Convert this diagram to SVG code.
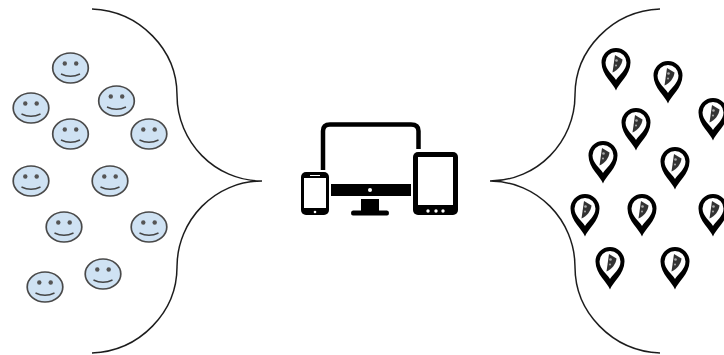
<svg xmlns="http://www.w3.org/2000/svg" width="724" height="355" viewBox="0 0 724 355">
<style>
.brace{fill:none;stroke:#1f1f1f;stroke-width:1.5}
.face{fill:#cfe2f3;stroke:#4a4a4a;stroke-width:1.7}
.eye{fill:#555}
.smile{fill:none;stroke:#444;stroke-width:1.4}
.k{fill:#000}
.w{fill:#fff}
.o{fill:none;stroke:#000}
</style>
<defs>
<filter id="soft" x="-10%" y="-10%" width="120%" height="120%"><feGaussianBlur stdDeviation="0.5"/></filter>
<g id="smiley">
<ellipse class="face" cx="0" cy="0" rx="17.8" ry="15"/>
<circle class="eye" cx="-5.7" cy="-4.5" r="2.2"/>
<circle class="eye" cx="5.7" cy="-4.5" r="2.2"/>
<path class="smile" d="M-9.5 6Q0 10.500 9.500 6"/>
</g>
<g id="pin">
<path class="k" d="M0 21.500C-2 15-14.500 6-14.500 -6.500A14.500 14.500 0 1 1 14.500 -6.500C14.500 6 2 15 0 21.500Z"/>
<path class="w" d="M0 11C-3 6-10.500 1-10.500 -6.500A10.500 10.500 0 1 1 10.500 -6.500C10.500 1 3 6 0 11Z"/>
<path d="M-3.500 3.500L-1 -14L6.500 -9.500C6 -4 2 1 -3.500 3.500Z" fill="#333"/>
<circle cx="0.500" cy="-8.500" r="1.300" fill="#aaa"/><circle cx="0" cy="-3.500" r="1" fill="#aaa"/>
</g>
</defs>
<g id="connectors" filter="url(#soft)">
<path class="brace" d="M92 9C140 11 177 50 177 95C177 142 215 181 262 181C215 181 177 220 177 267C177 312 140 351 92 353"/>
<path class="brace" d="M660 9C612 11 575 50 575 95C575 142 537 181 490 181C537 181 575 220 575 267C575 312 612 351 660 353"/>
</g>
<g filter="url(#soft)">
<g id="user-1"><use href="#smiley" x="70.500" y="68"/></g>
<g id="user-2"><use href="#smiley" x="31" y="108"/></g>
<g id="user-3"><use href="#smiley" x="116.500" y="101"/></g>
<g id="user-4"><use href="#smiley" x="70.500" y="134"/></g>
<g id="user-5"><use href="#smiley" x="149" y="134"/></g>
<g id="user-6"><use href="#smiley" x="31" y="181"/></g>
<g id="user-7"><use href="#smiley" x="110" y="181"/></g>
<g id="user-8"><use href="#smiley" x="64" y="227"/></g>
<g id="user-9"><use href="#smiley" x="149" y="227"/></g>
<g id="user-10"><use href="#smiley" x="45" y="287"/></g>
<g id="user-11"><use href="#smiley" x="103" y="274"/></g>
<g id="devices">
<path class="o" stroke-width="4.500" d="M323 170V131Q323 124.500 330 124.500H411Q418.500 124.500 418.500 131V149"/>
<rect class="k" x="331" y="184" width="80" height="12"/>
<circle class="w" cx="370" cy="190" r="2"/>
<path class="k" d="M361 199H379V210.500H387Q389 210.500 389 213Q389 215.500 387 215.500H353Q351 215.500 351 213Q351 210.500 353 210.500H361Z"/>
<rect class="k" x="301" y="172" width="28" height="43" rx="5"/>
<rect class="w" x="304" y="178" width="22" height="30"/>
<rect class="w" x="310" y="175" width="10" height="1"/>
<circle class="w" cx="315" cy="212" r="1.300"/>
<rect class="k" x="413" y="152" width="45" height="63" rx="5"/>
<rect class="w" x="418" y="157" width="35" height="48"/>
<circle class="w" cx="428" cy="211" r="1.700"/>
<circle class="w" cx="436" cy="211" r="1.700"/>
<circle class="w" cx="443" cy="211" r="1.700"/>
</g>
<g id="pin-1"><use href="#pin" x="616" y="69"/></g>
<g id="pin-2"><use href="#pin" x="668" y="82"/></g>
<g id="pin-3"><use href="#pin" x="636" y="129"/></g>
<g id="pin-4"><use href="#pin" x="713" y="119"/></g>
<g id="pin-5"><use href="#pin" x="603" y="162"/></g>
<g id="pin-6"><use href="#pin" x="675" y="168"/></g>
<g id="pin-7"><use href="#pin" x="585" y="215"/></g>
<g id="pin-8"><use href="#pin" x="642" y="215"/></g>
<g id="pin-9"><use href="#pin" x="713" y="215"/></g>
<g id="pin-10"><use href="#pin" x="610" y="268"/></g>
<g id="pin-11"><use href="#pin" x="675" y="268"/></g>
</g>
</svg>
